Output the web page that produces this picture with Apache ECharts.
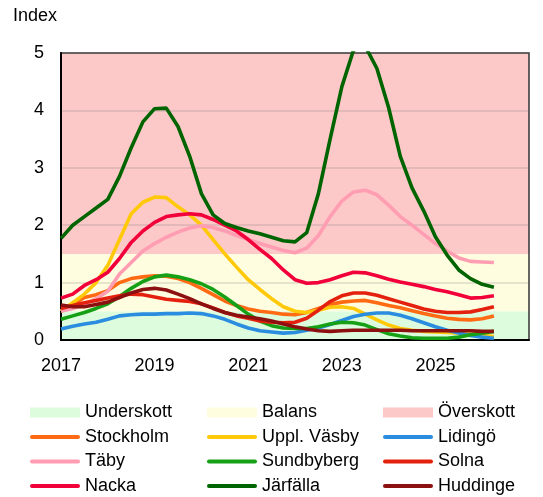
<!DOCTYPE html>
<html>
<head>
<meta charset="utf-8">
<script src="https://cdn.jsdelivr.net/npm/echarts@6/dist/echarts.min.js"></script>
<style>
  html, body { margin: 0; padding: 0; background: #fff; }
  #chart { width: 543px; height: 497px; }
</style>
</head>
<body>
<div id="chart"></div>
<script>
// quarterly index values
var quarters = [2017, 2017.25, 2017.5, 2017.75, 2018, 2018.25, 2018.5, 2018.75,
  2019, 2019.25, 2019.5, 2019.75, 2020, 2020.25, 2020.5, 2020.75,
  2021, 2021.25, 2021.5, 2021.75, 2022, 2022.25, 2022.5, 2022.75,
  2023, 2023.25, 2023.5, 2023.75, 2024, 2024.25, 2024.5, 2024.75,
  2025, 2025.25, 2025.5, 2025.75, 2026, 2026.25];

var stockholm = [0.50, 0.62, 0.74, 0.79, 0.86, 1.00, 1.07, 1.10, 1.12, 1.11, 1.07, 1.00,
  0.90, 0.79, 0.68, 0.60, 0.54, 0.50, 0.48, 0.45, 0.44, 0.48, 0.55, 0.62,
  0.66, 0.68, 0.69, 0.65, 0.60, 0.56, 0.51, 0.46, 0.42, 0.38, 0.36, 0.35, 0.37, 0.42];
var upplVasby = [0.50, 0.65, 0.80, 1.00, 1.30, 1.75, 2.20, 2.40, 2.49, 2.48, 2.32, 2.18,
  2.00, 1.75, 1.50, 1.27, 1.05, 0.88, 0.72, 0.58, 0.50, 0.48, 0.52, 0.57,
  0.58, 0.55, 0.45, 0.35, 0.26, 0.20, 0.17, 0.15, 0.14, 0.13, 0.12, 0.10, 0.08, 0.06];
var lidingo = [0.19, 0.24, 0.28, 0.31, 0.36, 0.42, 0.44, 0.45, 0.45, 0.46, 0.46, 0.47,
  0.46, 0.42, 0.36, 0.28, 0.21, 0.16, 0.14, 0.12, 0.13, 0.17, 0.21, 0.27,
  0.34, 0.41, 0.45, 0.47, 0.47, 0.43, 0.37, 0.30, 0.23, 0.17, 0.12, 0.08, 0.05, 0.03];
var taby = [0.50, 0.55, 0.62, 0.72, 0.85, 1.15, 1.35, 1.55, 1.68, 1.79, 1.88, 1.95,
  1.99, 1.96, 1.90, 1.82, 1.75, 1.68, 1.62, 1.56, 1.52, 1.60, 1.82, 2.15,
  2.42, 2.58, 2.61, 2.53, 2.35, 2.15, 2.00, 1.84, 1.68, 1.55, 1.43, 1.37, 1.36, 1.35];
var sundbyberg = [0.36, 0.42, 0.48, 0.55, 0.63, 0.76, 0.90, 1.02, 1.10, 1.13, 1.10, 1.05,
  0.98, 0.88, 0.75, 0.60, 0.45, 0.33, 0.25, 0.21, 0.20, 0.20, 0.23, 0.28,
  0.31, 0.30, 0.26, 0.18, 0.11, 0.07, 0.04, 0.03, 0.03, 0.03, 0.05, 0.09, 0.12, 0.15];
var solna = [0.55, 0.60, 0.65, 0.69, 0.73, 0.77, 0.80, 0.79, 0.75, 0.71, 0.69, 0.67,
  0.63, 0.56, 0.48, 0.42, 0.38, 0.33, 0.31, 0.30, 0.31, 0.38, 0.52, 0.67,
  0.77, 0.82, 0.82, 0.78, 0.72, 0.66, 0.60, 0.54, 0.50, 0.48, 0.48, 0.49, 0.53, 0.58];
var nacka = [0.73, 0.80, 0.95, 1.05, 1.18, 1.42, 1.70, 1.90, 2.05, 2.15, 2.18, 2.20,
  2.18, 2.10, 2.00, 1.90, 1.75, 1.58, 1.42, 1.22, 1.05, 0.99, 1.00, 1.05,
  1.12, 1.18, 1.17, 1.12, 1.06, 1.01, 0.97, 0.93, 0.88, 0.84, 0.79, 0.73, 0.74, 0.77];
var jarfalla = [1.77, 2.00, 2.15, 2.30, 2.45, 2.85, 3.35, 3.80, 4.03, 4.04, 3.72, 3.20,
  2.55, 2.18, 2.03, 1.96, 1.90, 1.85, 1.79, 1.73, 1.71, 1.87, 2.55, 3.50,
  4.41, 5.05, 5.12, 4.73, 4.05, 3.20, 2.65, 2.25, 1.80, 1.48, 1.22, 1.07, 0.97, 0.92];
var huddinge = [0.61, 0.58, 0.58, 0.62, 0.66, 0.74, 0.82, 0.88, 0.90, 0.87, 0.80, 0.72,
  0.63, 0.55, 0.48, 0.43, 0.40, 0.37, 0.33, 0.28, 0.23, 0.19, 0.16, 0.15,
  0.16, 0.17, 0.17, 0.17, 0.17, 0.17, 0.16, 0.16, 0.16, 0.16, 0.16, 0.16, 0.15, 0.15];

var seriesNames = ['Stockholm', 'Uppl. Väsby', 'Lidingö', 'Täby', 'Sundbyberg',
  'Solna', 'Nacka', 'Järfälla', 'Huddinge'];
var seriesValues = [stockholm, upplVasby, lidingo, taby, sundbyberg, solna, nacka, jarfalla, huddinge];
var seriesColors = ['#ff6a13', '#ffc90a', '#2b8de0', '#ff9db2', '#15a015',
  '#e4200e', '#f2003a', '#006400', '#8c1010'];

var bandNames = ['Underskott', 'Balans', 'Överskott'];
var bandLimits = [[0, 0.5], [0.5, 1.5], [1.5, 5]];
var bandColors = ['#ddfcdd', '#fffde0', '#fdc8c8'];

var yearTicks = [2017, 2019, 2021, 2023, 2025];

var font = 'Liberation Sans, Arial, sans-serif';
// legend marks: filled box for the bands, short thick stroke for the lines
var boxIcon = 'path://M0,0 L50,0 L50,10 L0,10 Z';
var lineIcon = 'path://M2,0 L48,0 Q50,0 50,2 Q50,4 48,4 L2,4 Q0,4 0,2 Q0,0 2,0 Z';

function pairs(values) {
  return values.map(function (v, i) { return [quarters[i], v]; });
}

var chart = echarts.init(document.getElementById('chart'));

var series = [];
bandNames.forEach(function (name, i) {
  series.push({
    name: name,
    type: 'line',
    data: [],
    z: -1,
    color: bandColors[i],
    markArea: {
      silent: true,
      z: -1,
      itemStyle: { color: bandColors[i], opacity: 1 },
      data: [[{ yAxis: bandLimits[i][0] }, { yAxis: bandLimits[i][1] }]]
    }
  });
});
seriesNames.forEach(function (name, i) {
  series.push({
    name: name,
    type: 'line',
    data: pairs(seriesValues[i]),
    symbol: 'none',
    color: seriesColors[i],
    lineStyle: { width: 3.6, color: seriesColors[i] },
    clip: true
  });
});

var legendCols = [
  ['Underskott', 'Stockholm', 'Täby', 'Nacka'],
  ['Balans', 'Uppl. Väsby', 'Sundbyberg', 'Järfälla'],
  ['Överskott', 'Lidingö', 'Solna', 'Huddinge']
];
var legendLeft = [30, 207, 383];

var option = {
  animation: false,
  backgroundColor: '#fff',
  textStyle: { fontFamily: font },
  title: {
    text: 'Index',
    left: 13, top: 7, padding: 0,
    textStyle: { fontSize: 18, fontWeight: 'normal', color: '#000', fontFamily: font }
  },
  grid: {
    left: 61, right: 14, top: 53, bottom: 157,
    show: true, borderColor: '#333', borderWidth: 1.5, backgroundColor: 'transparent'
  },
  legend: legendCols.map(function (names, i) {
    return {
      orient: 'vertical',
      left: legendLeft[i],
      top: 403.5,
      height: 93,
      padding: 0,
      itemWidth: 50,
      itemHeight: 10,
      itemGap: 6.5,
      selectedMode: false,
      symbolKeepAspect: true,
      textStyle: { fontSize: 18, color: '#000', fontFamily: font, lineHeight: 18 },
      data: names.map(function (n) {
        return { name: n, icon: bandNames.indexOf(n) >= 0 ? boxIcon : lineIcon };
      })
    };
  }),
  xAxis: {
    type: 'value',
    min: 2017, max: 2027, interval: 2,
    axisLine: { lineStyle: { color: '#000', width: 2 } },
    axisTick: { show: false },
    splitLine: { show: false },
    axisLabel: {
      fontSize: 18, color: '#000', margin: 17, fontFamily: font,
      formatter: function (v) { return yearTicks.indexOf(v) >= 0 ? String(v) : ''; }
    }
  },
  yAxis: {
    type: 'value',
    min: 0, max: 5, interval: 1,
    axisLine: { show: true, lineStyle: { color: '#000', width: 2 } },
    axisTick: { show: false },
    splitLine: { show: true, lineStyle: { color: 'rgba(120,120,120,0.25)', width: 1.5 } },
    axisLabel: { fontSize: 18, color: '#000', margin: 17, fontFamily: font }
  },
  series: series
};

chart.setOption(option);
</script>
</body>
</html>
